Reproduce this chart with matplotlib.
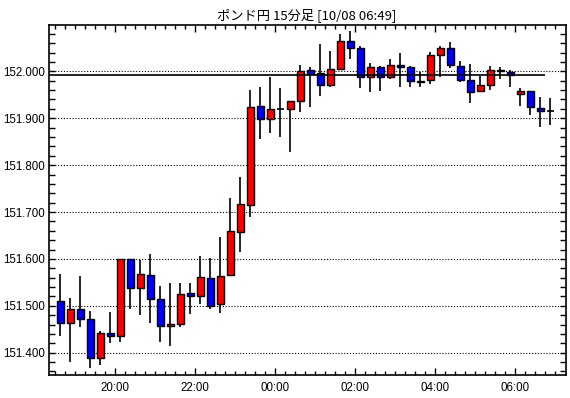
#Candlestick chart of GBP/JPY 15 minute bars

import matplotlib as mpl
mpl.use('Agg')
import matplotlib.pyplot as plt
from matplotlib.ticker import MultipleLocator, FormatStrFormatter

#OHLC values of each 15 minute bar, first bar is 18:30
opens  = [151.510, 151.463, 151.4925, 151.471, 151.388, 151.441, 151.436, 151.600, 151.5386, 151.5656,
          151.514, 151.456, 151.4605, 151.5266, 151.522, 151.5586, 151.503, 151.565, 151.658, 151.7155,
          151.925, 151.8976, 151.919, 151.919, 151.936, 152.002, 151.9957, 151.970, 152.005, 152.064,
          152.049, 151.987, 152.0085, 151.987, 152.0128, 152.0085, 151.980, 151.981, 152.034, 152.049,
          152.0106, 151.981, 151.957, 151.970, 152.002, 151.998, 151.951, 151.957, 151.921, 151.9147]
highs  = [151.567, 151.516, 151.5635, 151.489, 151.447, 151.486, 151.600, 151.600, 151.598, 151.610,
          151.542, 151.548, 151.549, 151.548, 151.606, 151.601, 151.646, 151.730, 151.7746, 151.960,
          151.966, 151.987, 151.964, 151.936, 152.0134, 152.0085, 152.058, 152.043, 152.0795, 152.0865,
          152.054, 152.0177, 152.012, 152.026, 152.038, 152.0106, 151.998, 152.042, 152.054, 152.062,
          152.022, 152.0152, 151.991, 152.011, 152.0085, 152.002, 151.964, 151.957, 151.945, 151.943]
lows   = [151.436, 151.381, 151.455, 151.367, 151.374, 151.420, 151.4234, 151.493, 151.480, 151.464,
          151.423, 151.415, 151.455, 151.4825, 151.504, 151.493, 151.484, 151.565, 151.615, 151.690,
          151.855, 151.868, 151.8605, 151.8286, 151.914, 151.9245, 151.948, 151.967, 152.005, 152.027,
          151.965, 151.9565, 151.959, 151.983, 151.967, 151.966, 151.967, 151.9735, 151.9885, 152.0064,
          151.978, 151.932, 151.955, 151.961, 151.984, 151.967, 151.9266, 151.9075, 151.882, 151.886]
closes = [151.463, 151.4925, 151.471, 151.388, 151.441, 151.436, 151.600, 151.5386, 151.567, 151.514,
          151.457, 151.4605, 151.525, 151.522, 151.561, 151.500, 151.5635, 151.6588, 151.717, 151.923,
          151.8976, 151.919, 151.919, 151.936, 152.001, 151.995, 151.970, 152.0042, 152.064, 152.049,
          151.987, 152.0085, 151.987, 152.0128, 152.0085, 151.9787, 151.978, 152.034, 152.049, 152.0128,
          151.981, 151.955, 151.970, 152.002, 152.000, 151.9914, 151.957, 151.923, 151.9147, 151.9147]

#Reference line price and x axis labels
ref_price = 151.992
time_labels = ['20:00', '22:00', '00:00', '02:00', '04:00', '06:00']
title_str = 'ポンド円 15分足 [10/08 06:49]'

fig = plt.figure(figsize=(5.70, 3.98), dpi=100)
ax = fig.add_axes([49/570, 1-375/398, (565.5-49)/570, (375-24.7)/398])

n = len(opens)
x = list(range(n))

#Wicks first, then bodies on top
ax.vlines(x, lows, highs, color='black', linewidth=1.2, zorder=2)
for i in range(n):
    o, c = opens[i], closes[i]
    col = '#ff0000' if c >= o else '#0000ff'
    if abs(c - o) < 1e-9:
        ax.hlines(o, i-0.35, i+0.35, color='black', linewidth=1.2, zorder=3)
    else:
        ax.bar(i, c-o, bottom=o, width=0.7, color=col, edgecolor='black', linewidth=1.0, zorder=3)

#Solid reference line
ax.hlines(ref_price, -1.2, 48.45, color='black', linewidth=1.2, zorder=4)

#Axis limits
ax.set_xlim(-1.13, 50.55)
ax.set_ylim(151.3525, 152.0994)

#Y axis ticks and dotted grid
ax.yaxis.set_major_locator(MultipleLocator(0.1))
ax.yaxis.set_minor_locator(MultipleLocator(0.02))
ax.yaxis.set_major_formatter(FormatStrFormatter('%.3f'))
for yv in [151.4, 151.5, 151.6, 151.7, 151.8, 151.9, 152.0]:
    ax.axhline(yv, color='black', linewidth=0.8, linestyle=(0, (1, 1.6)), zorder=1)

#X axis ticks: minor every bar, major every 2 hours
ax.set_xticks([i - 0.5 for i in range(0, n + 1)], minor=True)
ax.set_xticks([6 + 8*k - 0.5 for k in range(len(time_labels))])
ax.set_xticklabels(time_labels)

for lab in ax.get_xticklabels() + ax.get_yticklabels():
    lab.set_fontfamily('Liberation Sans')
    lab.set_fontsize(8.3)

ax.tick_params(axis='both', which='both', direction='in', top=True, right=True, color='black', width=1.0)
ax.tick_params(axis='x', which='major', length=5, pad=5)
ax.tick_params(axis='x', which='minor', length=3)
ax.tick_params(axis='y', which='major', length=4, pad=3)
ax.tick_params(axis='y', which='minor', length=4)

for sp in ax.spines.values():
    sp.set_linewidth(1.2)

#Title
fig.text(307/570, 1-15/398, title_str, ha='center', va='center', fontsize=9.5,
         family=['Noto Sans CJK JP', 'DejaVu Sans'])

plt.savefig('out.png', dpi=100)
plt.close()
